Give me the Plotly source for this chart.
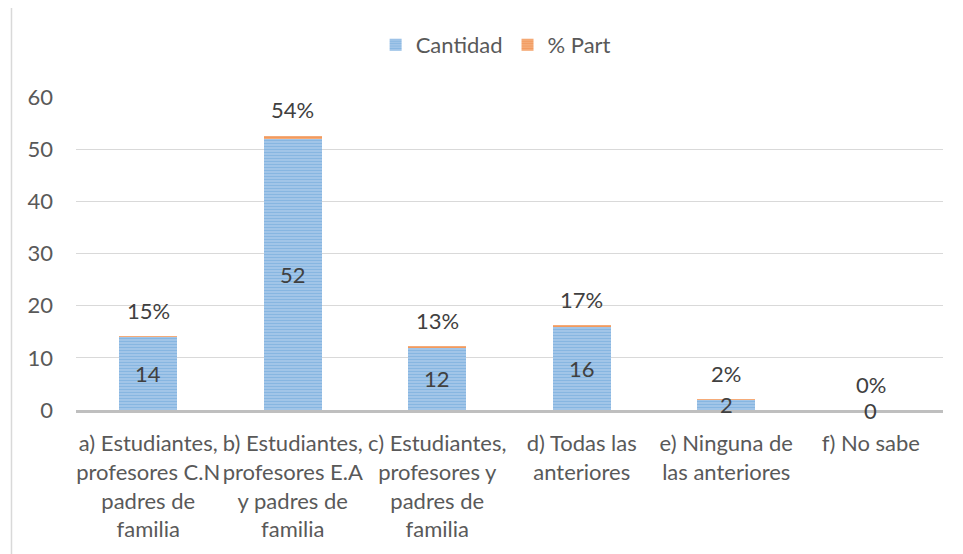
import plotly.graph_objects as go

categories = [
    "a) Estudiantes, profesores C.N padres de familia",
    "b) Estudiantes, profesores E.A y padres de familia",
    "c) Estudiantes, profesores y padres de familia",
    "d) Todas las anteriores",
    "e) Ninguna de las anteriores",
    "f) No sabe",
]
tick_labels = [
    "a) Estudiantes,<br>profesores C.N<br>padres de<br>familia",
    "b) Estudiantes,<br>profesores E.A<br>y padres de<br>familia",
    "c) Estudiantes,<br>profesores y<br>padres de<br>familia",
    "d) Todas las<br>anteriores",
    "e) Ninguna de<br>las anteriores",
    "f) No sabe",
]
cantidad = [14, 52, 12, 16, 2, 0]
pct_part = [0.15, 0.54, 0.13, 0.17, 0.02, 0.00]
pct_labels = ["15%", "54%", "13%", "17%", "2%", "0%"]
y_ticks = [0, 10, 20, 30, 40, 50, 60]

FONT = "Lato"
FS = 22
TXT = "#595959"
LBL = "#404040"

fig = go.Figure()
fig.add_trace(go.Bar(
    x=categories, y=cantidad, name="Cantidad",
    marker=dict(color="#5B9BD5", line=dict(width=0),
                pattern=dict(shape="-", bgcolor="#B3D0EC", fgcolor="#5B9BD5",
                             size=3, solidity=0.6)),
))
fig.add_trace(go.Bar(
    x=categories, y=pct_part, name="% Part",
    marker=dict(color="#ED7D31", line=dict(width=0),
                pattern=dict(shape="-", bgcolor="#F6B68A", fgcolor="#ED7D31",
                             size=3, solidity=0.6)),
))

annotations = []
for c, v in zip(categories, cantidad):
    annotations.append(dict(x=c, y=v / 2, text=str(v), showarrow=False,
                            xref="x", yref="y", yanchor="middle",
                            font=dict(family=FONT, size=FS, color=LBL)))
for c, v, p, t in zip(categories, cantidad, pct_part, pct_labels):
    annotations.append(dict(x=c, y=v + p, text=t, showarrow=False,
                            xref="x", yref="y", yanchor="middle", yshift=26,
                            font=dict(family=FONT, size=FS, color=LBL)))

# page body has an 8px margin: margins compensate so the plot sits where the reference does
fig.update_layout(
    barmode="stack",
    bargap=0.6,
    width=963, height=554,
    margin=dict(l=68, r=28, t=89, b=152, autoexpand=False),
    paper_bgcolor="white", plot_bgcolor="white",
    font=dict(family=FONT, size=FS, color=TXT),
    showlegend=True,
    legend=dict(orientation="h", x=0.484, xanchor="center", y=1.166, yanchor="middle",
                font=dict(family=FONT, size=FS, color=TXT), traceorder="normal",
                itemwidth=30),
    annotations=annotations,
    shapes=[dict(type="rect", xref="paper", yref="paper",
                 x0=-0.0744, x1=1.2, y0=-0.7, y1=1.289,
                 line=dict(color="#D9D9D9", width=1.5), layer="below")],
)
fig.update_yaxes(range=[0, 60], tickvals=y_ticks, showgrid=True, gridcolor="#D9D9D9",
                 gridwidth=1, zeroline=False, showline=False, automargin=False,
                 tickfont=dict(family=FONT, size=FS, color=TXT), ticklabelstandoff=22)
fig.update_xaxes(tickvals=categories, ticktext=tick_labels, showline=True,
                 linecolor="#BFBFBF", linewidth=3, ticks="", automargin=False,
                 tickfont=dict(family=FONT, size=FS, color=TXT), ticklabelstandoff=12)

fig.write_html("out.html")
